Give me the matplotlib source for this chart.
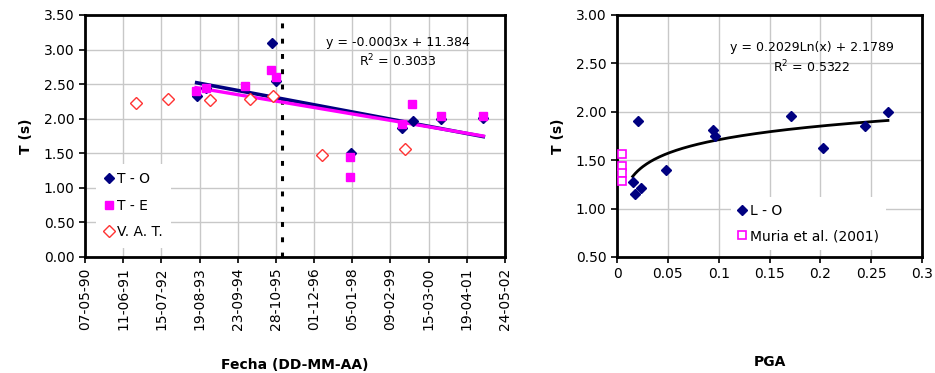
import numpy as np
import matplotlib
matplotlib.use("Agg")
import matplotlib.pyplot as plt

plt.rcParams['font.family'] = ['DejaVu Sans']

# ---------------- Left chart data (dates as Excel serial day numbers) ----------------
to_dates = [34170, 34268, 34956, 35006, 35783, 36324, 36439, 36726, 37173]
to_T     = [2.33, 2.45, 3.09, 2.54, 1.50, 1.87, 1.97, 2.00, 2.01]

te_dates = [34163, 34268, 34676, 34948, 34998, 35776, 35776, 36324, 36431, 36726, 37173]
te_T     = [2.40, 2.45, 2.47, 2.71, 2.61, 1.45, 1.15, 1.93, 2.21, 2.04, 2.04]

vat_dates = [33534, 33873, 34310, 34729, 34973, 35486, 36357]
vat_T     = [2.22, 2.28, 2.27, 2.28, 2.33, 1.47, 1.56]

trend_to = (-0.0002594, 11.384)   # slope, intercept
trend_te = (-0.0002326, 10.396)
event_date = 35064

date_ticks = [33000 + 400 * i for i in range(12)]
date_labels = ['07-05-90', '11-06-91', '15-07-92', '19-08-93', '23-09-94', '28-10-95',
               '01-12-96', '05-01-98', '09-02-99', '15-03-00', '19-04-01', '24-05-02']

# ---------------- Right chart data ----------------
pga_lo = [0.0203, 0.0154, 0.0239, 0.0180, 0.0480, 0.0940, 0.0967, 0.1710, 0.2026, 0.2440, 0.2665]
T_lo   = [1.90, 1.27, 1.21, 1.15, 1.40, 1.81, 1.75, 1.96, 1.63, 1.85, 2.00]

pga_muria = [0.005, 0.005, 0.005, 0.005]
T_muria   = [1.56, 1.44, 1.37, 1.29]

log_fit = (0.2029, 2.1789)

navy = '#000080'
mag = '#FF00FF'
red = '#FF3333'
grid_c = '#C8C8C8'

fig = plt.figure(figsize=(9.35, 3.73), dpi=100)
ax1 = fig.add_axes([0.0909, 0.311, 0.4492, 0.6488])
ax2 = fig.add_axes([0.6599, 0.311, 0.3262, 0.6488])

for ax in (ax1, ax2):
    ax.set_axisbelow(True)
    for s in ax.spines.values():
        s.set_linewidth(2.0)
        s.set_color('black')
    ax.tick_params(direction='out', length=4, width=1.2, labelsize=10, colors='black')
    ax.grid(True, color=grid_c, linewidth=1.0)

# ---- left ----
ax1.set_xlim(date_ticks[0], date_ticks[-1])
ax1.set_ylim(0, 3.5)
ax1.set_xticks(date_ticks)
ax1.set_xticklabels(date_labels, rotation=90)
ax1.set_yticks(np.arange(0, 3.51, 0.5))
ax1.set_yticklabels([f'{v:.2f}' for v in np.arange(0, 3.51, 0.5)])

xs = np.array([min(to_dates), max(to_dates)], dtype=float)
ax1.plot(xs, trend_to[0] * xs + trend_to[1], color=navy, lw=2.6, zorder=3)
xs2 = np.array([min(te_dates), max(te_dates)], dtype=float)
ax1.plot(xs2, trend_te[0] * xs2 + trend_te[1], color=mag, lw=2.4, zorder=3)

ax1.plot(to_dates, to_T, linestyle='none', marker='D', ms=5.5, color=navy, label='T - O', zorder=4)
ax1.plot(te_dates, te_T, linestyle='none', marker='s', ms=6, color=mag, label='T - E', zorder=5)
ax1.plot(vat_dates, vat_T, linestyle='none', marker='D', ms=6, mfc='white', mec=red,
         mew=1.0, label='V. A. T.', zorder=4)

ax1.axvline(event_date, color='black', lw=2.2, linestyle=(0, (1.6, 3.4)), zorder=2)

ax1.text(0.745, 0.888, 'y = -0.0003x + 11.384', transform=ax1.transAxes,
         ha='center', va='center', fontsize=9)
ax1.text(0.745, 0.808, 'R$^2$ = 0.3033', transform=ax1.transAxes,
         ha='center', va='center', fontsize=9)

leg1 = ax1.legend(loc='lower left', bbox_to_anchor=(0.01, 0.01), frameon=True,
                  fontsize=10, handlelength=0.6, handletextpad=0.3,
                  labelspacing=0.9, borderpad=0.6)
leg1.get_frame().set_edgecolor('none')
leg1.get_frame().set_facecolor('white')
leg1.get_frame().set_alpha(1)

ax1.set_ylabel('T (s)', fontsize=10, fontweight='bold', labelpad=8)
ax1.set_xlabel('Fecha (DD-MM-AA)', fontsize=10, fontweight='bold', va='center')
ax1.xaxis.set_label_coords(0.5, -0.446)

# ---- right ----
ax2.set_xlim(0, 0.3)
ax2.set_ylim(0.5, 3.0)
ax2.set_xticks(np.arange(0, 0.301, 0.05))
ax2.set_xticklabels(['0', '0.05', '0.1', '0.15', '0.2', '0.25', '0.3'])
ax2.set_yticks(np.arange(0.5, 3.01, 0.5))
ax2.set_yticklabels([f'{v:.2f}' for v in np.arange(0.5, 3.01, 0.5)])

xc = np.linspace(min(pga_lo), max(pga_lo), 200)
ax2.plot(xc, log_fit[0] * np.log(xc) + log_fit[1], color='black', lw=2.0, zorder=3)

ax2.plot(pga_lo, T_lo, linestyle='none', marker='D', ms=5.5, color=navy, label='L - O', zorder=4)
ax2.plot(pga_muria, T_muria, linestyle='none', marker='s', ms=6, mfc='white', mec=mag,
         mew=1.2, label='Muria et al. (2001)', zorder=4)

ax2.text(0.64, 0.866, 'y = 0.2029Ln(x) + 2.1789', transform=ax2.transAxes,
         ha='center', va='center', fontsize=9)
ax2.text(0.64, 0.786, 'R$^2$ = 0.5322', transform=ax2.transAxes,
         ha='center', va='center', fontsize=9)

leg2 = ax2.legend(loc='lower left', bbox_to_anchor=(0.35, 0.0), frameon=True,
                  fontsize=10, handlelength=0.6, handletextpad=0.3,
                  labelspacing=0.8, borderpad=0.5)
leg2.get_frame().set_edgecolor('none')
leg2.get_frame().set_facecolor('white')
leg2.get_frame().set_alpha(1)

ax2.set_ylabel('T (s)', fontsize=10, fontweight='bold', labelpad=8)
ax2.set_xlabel('PGA', fontsize=10, fontweight='bold', va='center')
ax2.xaxis.set_label_coords(0.5, -0.434)

fig.savefig('out.png', dpi=100, facecolor='white')
